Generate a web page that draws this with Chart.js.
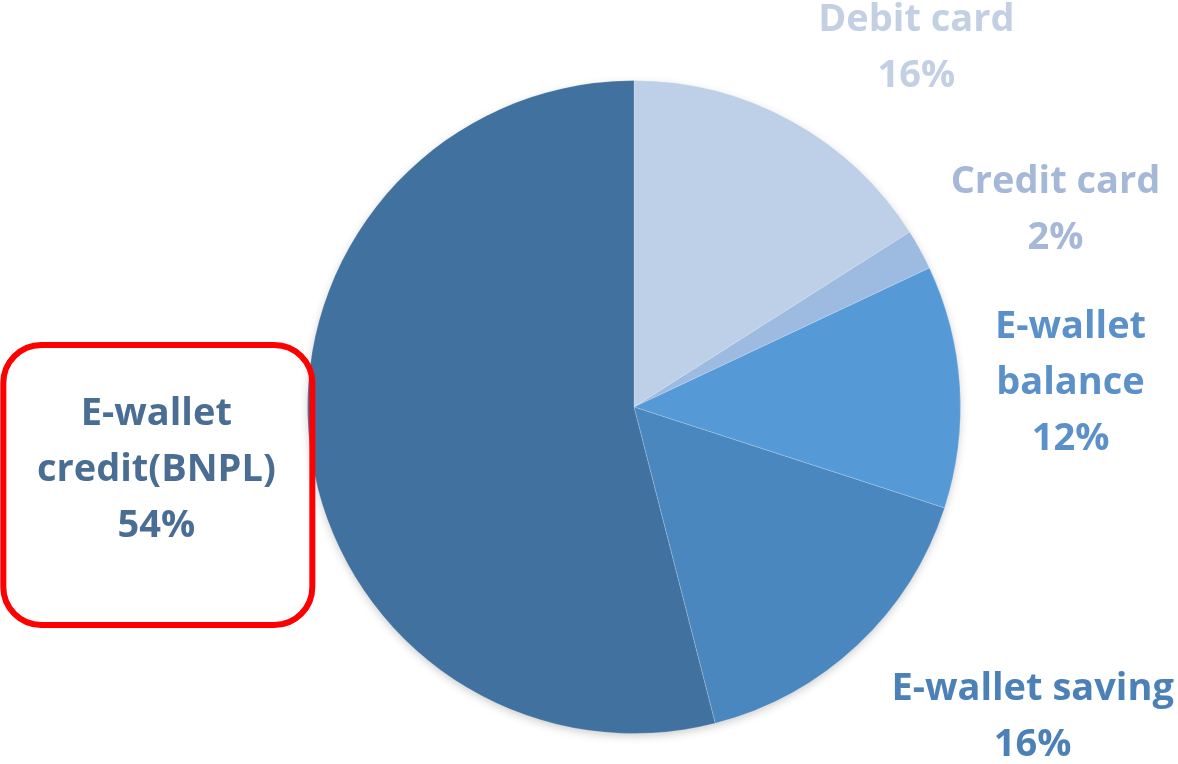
<!DOCTYPE html>
<html>
<head>
<meta charset="utf-8">
<script src="https://cdn.jsdelivr.net/npm/chart.js@4.4.1/dist/chart.umd.min.js"></script>
<style>
  html, body { margin: 0; padding: 0; background: #fff; }
  #wrap { width: 1178px; height: 764px; }
</style>
</head>
<body>
<div id="wrap"><canvas id="pie"></canvas></div>
<script>
// Payment methods, clockwise from 12 o'clock
const categories = ['Debit card', 'Credit card', 'E-wallet balance', 'E-wallet saving', 'E-wallet credit(BNPL)'];
const shares = [16, 2, 12, 16, 54];
const labelLines = [
    ['Debit card'],
    ['Credit card'],
    ['E-wallet', 'balance'],
    ['E-wallet saving'],
    ['E-wallet', 'credit(BNPL)']
];

const sliceColors = ['#bdd0e8', '#9dbbe0', '#559ad6', '#4a87be', '#41729f'];
const textColors = ['#c3cfe3', '#a6b8d7', '#5b91c8', '#4b81b6', '#4a6d93'];
// label centre relative to the pie centre, in radii
const labelOffsets = [[0.865, -1.10], [1.291, -0.604], [1.337, -0.074], [1.221, 0.951], [-1.463, 0.193]];

const FONT = 'bold 38px "Open Sans"';
const LINE_H = 56;

const pieShadow = {
    id: 'pieShadow',
    beforeDatasetsDraw(chart) {
        const arc = chart.getDatasetMeta(0).data[0];
        if (!arc) return;
        const ctx = chart.ctx;
        ctx.save();
        ctx.shadowColor = 'rgba(0,0,0,0.22)';
        ctx.shadowBlur = 10;
        ctx.shadowOffsetY = 3;
        ctx.fillStyle = '#fff';
        ctx.beginPath();
        ctx.arc(arc.x, arc.y, arc.outerRadius - 1, 0, Math.PI * 2);
        ctx.fill();
        ctx.restore();
    }
};

const sliceLabels = {
    id: 'sliceLabels',
    afterDraw(chart) {
        const ctx = chart.ctx;
        const arcs = chart.getDatasetMeta(0).data;
        ctx.save();
        ctx.font = FONT;
        ctx.textAlign = 'center';
        ctx.textBaseline = 'middle';
        arcs.forEach((arc, i) => {
            const r = arc.outerRadius;
            const cx = arc.x + labelOffsets[i][0] * r;
            const cy = arc.y + labelOffsets[i][1] * r;
            const lines = labelLines[i].concat([shares[i] + '%']);
            const top = cy - (lines.length - 1) * LINE_H / 2;
            ctx.fillStyle = textColors[i];
            lines.forEach((t, k) => ctx.fillText(t, cx, top + k * LINE_H));

            // highlight box round the BNPL share
            if (i === 4) {
                ctx.strokeStyle = '#ff0000';
                ctx.lineWidth = 6;
                ctx.beginPath();
                ctx.roundRect(cx - 153, cy - 125, 309, 280, 38);
                ctx.stroke();
            }
        });
        ctx.restore();
    }
};

new Chart(document.getElementById('pie'), {
    type: 'pie',
    data: {
        labels: categories,
        datasets: [{
            data: shares,
            backgroundColor: sliceColors,
            borderColor: 'rgba(255,255,255,0.18)',
            borderWidth: 1
        }]
    },
    options: {
        responsive: true,
        maintainAspectRatio: false,
        animation: false,
        layout: { padding: { left: 300, right: 210, top: 80, bottom: 30 } },
        plugins: {
            legend: { display: false },
            tooltip: { enabled: false }
        }
    },
    plugins: [pieShadow, sliceLabels]
});
</script>
</body>
</html>
